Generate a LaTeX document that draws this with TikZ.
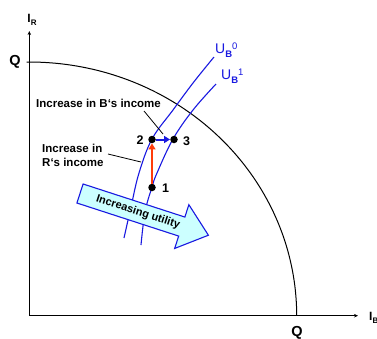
\documentclass[tikz,border=0pt]{standalone}
\usepackage{fontspec}
\setmainfont{Liberation Sans}
\usetikzlibrary{arrows.meta}
\definecolor{ublue}{RGB}{25,25,225}
\definecolor{acyan}{RGB}{204,255,255}
\definecolor{ared}{RGB}{255,60,10}
\begin{document}
\begin{tikzpicture}[x=1pt,y=-1pt,
  axis/.style={line width=1.1pt, {Stealth[length=4pt,width=3.5pt]}-{Stealth[length=4pt,width=3.5pt]}},
  frontier/.style={line width=1pt},
  ucurve/.style={ublue, line width=1.1pt},
  lbl/.style={font=\fontsize{11.5}{14}\selectfont\bfseries, inner sep=0pt},
  qlbl/.style={font=\fontsize{14.5}{16}\selectfont\bfseries, inner sep=0pt},
  numlbl/.style={font=\fontsize{12.5}{14}\selectfont\bfseries, inner sep=0pt},
  ulbl/.style={ublue, font=\fontsize{14}{16}\selectfont, inner sep=0pt},
  dot/.style={circle, fill=black, inner sep=0pt, minimum size=7.5pt},
  leader/.style={line width=0.8pt},
  redarr/.style={ared, line width=2.6pt, -{Triangle[length=6pt,width=7pt]}},
  bluearr/.style={ublue, line width=2pt, -{Triangle[length=6pt,width=7pt]}},
  bigarrow/.style={draw=ublue, fill=acyan, line width=1.1pt, line join=miter}
]
\clip (0,0) rectangle (377,338);
\fill[white] (0,0) rectangle (377,338);

% axes
\coordinate (O) at (29.3,315.7);
\coordinate (ytip) at (29.3,31);
\coordinate (xtip) at (358,315.7);
\draw[axis] (ytip) -- (O) -- (xtip);
\node[inner sep=0pt, font=\fontsize{12}{14}\selectfont\bfseries] (IR) at (32,20) {I\raisebox{-3.5pt}{\fontsize{8}{9}\selectfont R}};
\node[inner sep=0pt, font=\fontsize{12}{14}\selectfont\bfseries, anchor=west] (IB) at (369,318) {I\raisebox{-3.5pt}{\fontsize{8}{9}\selectfont B}};

% production frontier
\draw[frontier] (26.5,62) -- plot[domain=90:0, samples=80] ({29.3+267.4*cos(\x)},{315.7-253.7*sin(\x)});
\node[qlbl] (Qr) at (15,62) {Q};
\node[qlbl] (Qb) at (297,332.5) {Q};

% utility curves
\draw[ucurve] plot[smooth, tension=0.6] coordinates {(214,57) (193,83) (173,110) (152,139) (139,173) (131,207) (124,238)};
\draw[ucurve] plot[smooth, tension=0.6] coordinates {(216,84) (193,110) (173,139) (157,173) (152,187) (145,212) (141,245)};
\node[ulbl, anchor=west] (U0) at (215,50) {U\raisebox{-4pt}{\fontsize{9.5}{10}\selectfont\bfseries B}\raisebox{4pt}{\fontsize{9.5}{10}\selectfont 0}};
\node[ulbl, anchor=west] (U1) at (221,76) {U\raisebox{-4pt}{\fontsize{9.5}{10}\selectfont\bfseries B}\raisebox{4pt}{\fontsize{9.5}{10}\selectfont 1}};

% points
\node[dot] (p1) at (152,187.5) {};
\node[dot] (p2) at (152,139.5) {};
\node[dot] (p3) at (174,139.5) {};
\node[numlbl] (n1) at (165.5,188) {1};
\node[numlbl] (n2) at (140,140) {2};
\node[numlbl] (n3) at (186.5,141) {3};
\draw[redarr] (p1) -- (p2);
\draw[bluearr] (p2) -- (p3);

% labels and leader lines
\node[lbl] (incB) at (98.5,103) {Increase in B‘s income};
\node[lbl, align=left, anchor=north west] (incR) at (42,144) {Increase in\\R‘s income};
\coordinate (lbA) at (144,111);
\coordinate (lbB) at (163,134);
\coordinate (lrA) at (108,154);
\coordinate (lrB) at (141,162);
\draw[leader] (lbA) -- (lbB);
\draw[leader] (lrA) -- (lrB);

% big arrow
\begin{scope}[shift={(80,193.5)}, rotate=-18]
\draw[bigarrow] (0,-10) -- (107,-10) -- (107,-23) -- (135,0) -- (107,23) -- (107,10) -- (0,10) -- cycle;
\node[rotate=-18, inner sep=0pt, font=\fontsize{11}{13}\selectfont\bfseries] (util) at (61,0) {Increasing utility};
\end{scope}
\end{tikzpicture}
\end{document}
